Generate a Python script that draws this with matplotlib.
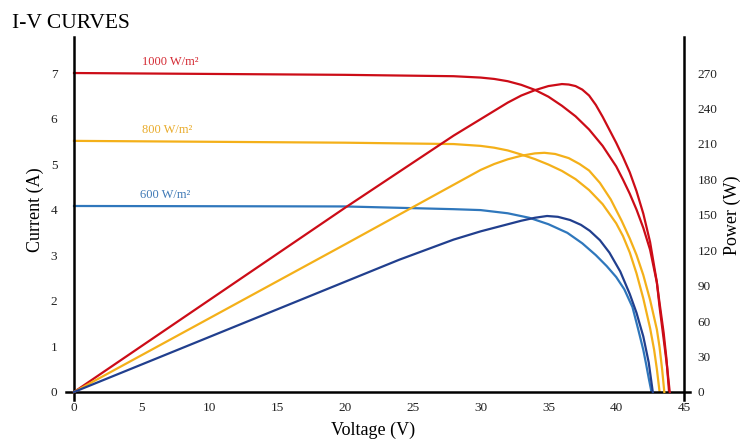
import numpy as np
import matplotlib
matplotlib.use('Agg')
import matplotlib.pyplot as plt

plt.rcParams['font.family'] = ['Liberation Serif', 'DejaVu Serif']

# I-V curves (voltage V, current A)
v_iv_1000 = [0, 10, 20, 28, 30, 31, 32, 33, 34, 35, 36, 37, 38, 39, 40, 40.5, 41, 41.5,
             42, 42.5, 43, 43.2, 43.5, 43.7, 43.9]
i_iv_1000 = [7.00, 6.98, 6.96, 6.93, 6.90, 6.87, 6.82, 6.74, 6.63, 6.48, 6.28, 6.05, 5.76,
             5.40, 4.95, 4.66, 4.35, 4.00, 3.60, 3.12, 2.40, 1.95, 1.30, 0.75, 0.0]

v_iv_800 = [0, 20, 28, 30, 31, 32, 33, 34, 35, 36, 37, 38, 39, 40, 40.5, 41, 41.5, 42,
            42.5, 42.8, 43.0, 43.2]
i_iv_800 = [5.51, 5.47, 5.44, 5.40, 5.36, 5.30, 5.21, 5.11, 4.99, 4.85, 4.67, 4.43, 4.12,
            3.70, 3.42, 3.06, 2.60, 2.05, 1.40, 0.92, 0.50, 0.0]

v_iv_600 = [0, 20, 28, 30, 32, 33.6, 35, 36.4, 37.5, 38.5, 39.3, 40, 40.6, 41.2, 41.6,
            42.0, 42.2, 42.4, 42.6]
i_iv_600 = [4.08, 4.07, 4.01, 3.99, 3.92, 3.82, 3.68, 3.49, 3.26, 3.00, 2.76, 2.52, 2.25,
            1.86, 1.40, 0.92, 0.62, 0.30, 0.0]

# P-V curves (voltage V, power W)
v_pv_1000 = [0, 10, 20, 28, 30, 31, 32, 33, 34, 35, 36, 36.5, 37, 37.5, 38, 38.5, 39,
             39.5, 40, 40.5, 41, 41.5, 42, 42.5, 43, 43.2, 43.5, 43.75, 43.95]
p_pv_1000 = [0, 78, 156, 217, 231, 238, 245, 251, 255.5, 259, 260.7, 260.3, 259, 256,
             251, 243, 233, 222, 211, 199, 186, 170, 151, 127, 93, 72, 45, 22, 0]

v_pv_800 = [0, 20, 30, 31, 32, 33, 34, 34.7, 35.5, 36.5, 37.3, 38, 38.8, 39.6, 40.4, 41,
            41.5, 42, 42.5, 43, 43.2, 43.4, 43.55]
p_pv_800 = [0, 125, 188, 193, 197, 200, 202, 202.5, 201.5, 198, 193, 187.5, 177, 163, 145,
            130, 116, 99, 78, 53, 38, 18, 0]

v_pv_600 = [0, 24, 28, 30, 31.5, 33, 34, 34.9, 35.7, 36.6, 37.4, 38.05, 38.8, 39.5, 40.3,
            41, 41.5, 42, 42.4, 42.7]
p_pv_600 = [0, 112, 129, 136, 140.5, 145, 147.5, 149, 148.3, 145.6, 141.5, 136.5, 128.5,
            118, 102, 83, 67, 47, 25, 0]

irradiance = ['1000 W/m\u00b2', '800 W/m\u00b2', '600 W/m\u00b2']
x_ticks = [0, 5, 10, 15, 20, 25, 30, 35, 40, 45]
i_ticks = [0, 1, 2, 3, 4, 5, 6, 7]
p_ticks = [0, 30, 60, 90, 120, 150, 180, 210, 240, 270]

red = '#cc0c17'
orange = '#f4b019'
lblue = '#2f77bc'
dblue = '#213f8e'

fig = plt.figure(figsize=(7.42, 4.41), dpi=100)
ax = fig.add_axes([0.0888, 0.093, 0.8412, 0.823])
ax2 = ax.twinx()

ax.plot(v_iv_1000, i_iv_1000, color=red, lw=1.6)
ax.plot(v_iv_800, i_iv_800, color=orange, lw=1.6)
ax.plot(v_iv_600, i_iv_600, color=lblue, lw=1.6)
ax2.plot(v_pv_1000, p_pv_1000, color=red, lw=1.6)
ax2.plot(v_pv_800, p_pv_800, color=orange, lw=1.6)
ax2.plot(v_pv_600, p_pv_600, color=dblue, lw=1.6)

ax.text(7.1, 7.24, irradiance[0], color='#d42a33', fontsize=9, ha='center', va='center')
ax.text(6.9, 5.75, irradiance[1], color='#e9ab2a', fontsize=9, ha='center', va='center')
ax.text(6.7, 4.32, irradiance[2], color='#3d78b5', fontsize=9, ha='center', va='center')

ax.set_xlim(-0.6, 45.45)
ax.set_ylim(-0.18, 7.79)
ax2.set_ylim(-6.77, 300.5)

ax.set_xticks(x_ticks)
ax.set_yticks(i_ticks)
ax2.set_yticks(p_ticks)

for a in (ax, ax2):
    for s in a.spines.values():
        s.set_visible(False)
ax.spines['left'].set_visible(True)
ax.spines['left'].set_position(('data', 0))
ax.spines['bottom'].set_visible(True)
ax.spines['bottom'].set_position(('data', 0))
ax2.spines['right'].set_visible(True)
ax2.spines['right'].set_position(('data', 45))
for s in (ax.spines['left'], ax.spines['bottom'], ax2.spines['right']):
    s.set_linewidth(1.8)
    s.set_color('black')

ax.tick_params(axis='x', length=0, pad=7, labelsize=9.5, labelcolor='#222222')
ax.tick_params(axis='y', length=0, pad=12, labelsize=9.5, labelcolor='#222222')
ax2.tick_params(axis='y', length=0, pad=10, labelsize=9.5, labelcolor='#222222')

fig.text(0.016, 0.937, 'I-V CURVES', fontsize=15.5, ha='left', va='baseline')
fig.text(0.503, 0.025, 'Voltage (V)', fontsize=13, ha='center', va='center')
fig.text(0.047, 0.524, 'Current (A)', fontsize=13, ha='center', va='center', rotation=90)
fig.text(0.9865, 0.512, 'Power (W)', fontsize=13, ha='center', va='center', rotation=90)

fig.savefig('out.png', dpi=100)
